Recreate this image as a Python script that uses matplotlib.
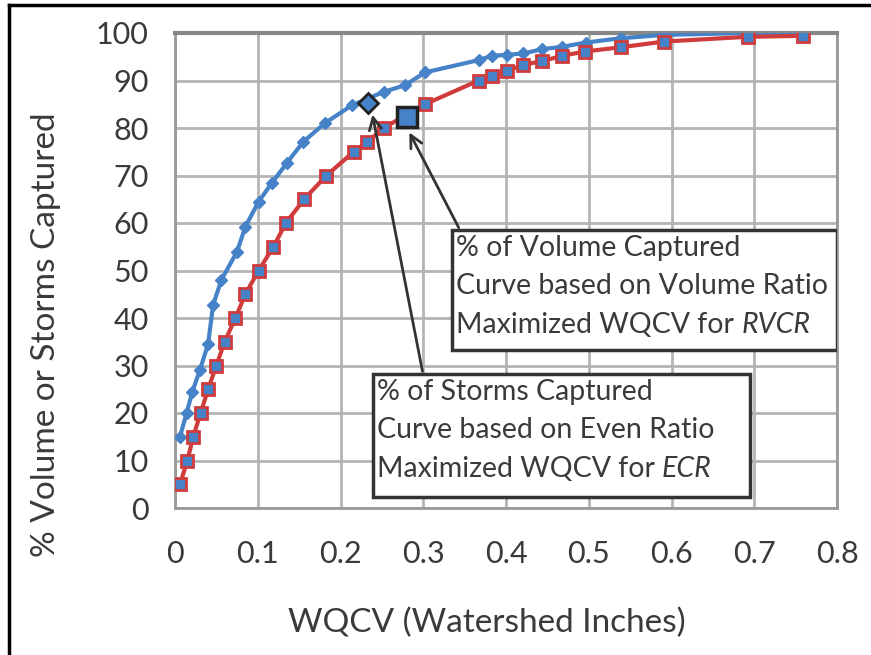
import matplotlib
matplotlib.use("Agg")
import matplotlib.pyplot as plt
from matplotlib.patches import Rectangle
from matplotlib.lines import Line2D

plt.rcParams['font.family'] = ['Lato', 'DejaVu Sans']

# % of Volume Captured (blue, diamonds)
vol_x = [0.006, 0.014, 0.021, 0.030, 0.040, 0.046, 0.056, 0.075, 0.085, 0.101,
         0.117, 0.135, 0.155, 0.181, 0.214, 0.252, 0.278, 0.302, 0.367, 0.383,
         0.401, 0.421, 0.444, 0.468, 0.497, 0.539, 0.591, 0.692, 0.759]
vol_y = [15, 20, 24.5, 29, 34.5, 42.7, 48, 54, 59.2, 64.5,
         68.4, 72.6, 77.1, 81, 84.8, 87.6, 89, 91.7, 94.3, 95.2,
         95.4, 95.7, 96.6, 97.1, 98, 98.9, 99.6, 100, 99.9]

# % of Storms Captured (red, squares)
storm_x = [0.006, 0.015, 0.022, 0.031, 0.040, 0.050, 0.060, 0.073, 0.085, 0.101,
           0.119, 0.134, 0.156, 0.183, 0.216, 0.232, 0.252, 0.302, 0.367, 0.383,
           0.401, 0.421, 0.444, 0.468, 0.495, 0.539, 0.591, 0.692, 0.759]
storm_y = [5, 10, 15, 20, 25, 30, 35, 40, 45, 50,
           55, 60, 65, 70, 75, 77, 80, 85, 90, 91,
           92, 93.3, 94.1, 95.2, 96.1, 97, 98.2, 99.2, 99.4]

# Maximized WQCV points
ecr_pt = (0.2335, 85.3)
rvcr_pt = (0.280, 82.4)

x_ticks = [0, 0.1, 0.2, 0.3, 0.4, 0.5, 0.6, 0.7, 0.8]
x_tick_labels = ['0', '0.1', '0.2', '0.3', '0.4', '0.5', '0.6', '0.7', '0.8']
y_ticks = [0, 10, 20, 30, 40, 50, 60, 70, 80, 90, 100]

box1_lines = ["% of Volume Captured", "Curve based on Volume Ratio", "Maximized WQCV for "]
box1_italic = "RVCR"
box2_lines = ["% of Storms Captured", "Curve based on Even Ratio", "Maximized WQCV for "]
box2_italic = "ECR"

BLUE = '#4682c8'
RED = '#d03c3c'
TEXT = '#3a3a3a'
GRID = '#b4b4b4'

fig = plt.figure(figsize=(8.71, 6.55), dpi=100)
ax = fig.add_axes([175/871, 1-508/655, (837-175)/871, (508-33)/655])

ax.set_xlim(0, 0.8)
ax.set_ylim(0, 100)
ax.set_xticks(x_ticks)
ax.set_xticklabels(x_tick_labels)
ax.set_yticks(y_ticks)
ax.grid(True, color=GRID, linewidth=2)
ax.set_axisbelow(True)
for s in ax.spines.values():
    s.set_color('#999999')
    s.set_linewidth(2)
ax.spines['top'].set_color('#888888')
ax.spines['top'].set_linewidth(3)
ax.tick_params(length=0, labelsize=22, labelcolor=TEXT)
ax.tick_params(axis='y', pad=19)
ax.tick_params(axis='x', pad=23)

ax.plot(vol_x, vol_y, color=BLUE, linewidth=3, marker='D', markersize=6,
        markerfacecolor=BLUE, markeredgecolor=BLUE, zorder=3)
ax.plot(storm_x, storm_y, color=RED, linewidth=3, marker='s', markersize=9,
        markerfacecolor=BLUE, markeredgecolor=RED, markeredgewidth=2, zorder=3)

ax.plot([ecr_pt[0]], [ecr_pt[1]], marker='D', markersize=10, markerfacecolor=BLUE,
        markeredgecolor='#222222', markeredgewidth=2, zorder=5, linestyle='none')
ax.plot([rvcr_pt[0]], [rvcr_pt[1]], marker='s', markersize=15, markerfacecolor=BLUE,
        markeredgecolor='#222222', markeredgewidth=2.5, zorder=5, linestyle='none')

ax.set_xlabel('WQCV (Watershed Inches)', fontsize=24, color=TEXT)
ax.xaxis.label.set_va('center')
ax.xaxis.set_label_coords((486.5-175)/662, (508-623)/475)
ax.set_ylabel('% Volume or Storms Captured', fontsize=24, color=TEXT)
ax.yaxis.label.set_va('center')
ax.yaxis.set_label_coords((46-175)/662, (508-335)/475)

# arrows
arrow_kw = dict(arrowstyle='->', color='#333333', lw=2, mutation_scale=22)
ax.annotate('', xy=(0.2816, 79.6), xytext=(0.3444, 58.5),
            arrowprops=arrow_kw, zorder=6)
ax.annotate('', xy=(0.238, 83.4), xytext=(0.2997, 28.2),
            arrowprops=arrow_kw, zorder=6)

def draw_box(x0, y0, x1, y1, lines, italic):
    ax.add_patch(Rectangle((x0, y0), x1 - x0, y1 - y0, facecolor='white',
                           edgecolor='#333333', linewidth=2.5, zorder=7))
    tx = x0 + 0.005
    ty = y1 - 1.0
    t = None
    for i, ln in enumerate(lines):
        t = ax.text(tx, ty - i * 8.1, ln, fontsize=20.5, color=TEXT, va='top',
                    ha='left', zorder=8)
    ax.annotate(italic, xy=(1, 0), xycoords=t, va='bottom', ha='left',
                fontsize=20.5, color=TEXT, style='italic', zorder=8)

draw_box(0.3347, 33.3, 0.8, 58.5, box1_lines, box1_italic)
draw_box(0.239, 2.3, 0.695, 28.2, box2_lines, box2_italic)

# figure frame
fig.add_artist(Line2D([9/871, 9/871], [0, 1-5/655], color='black', lw=2.5,
                      transform=fig.transFigure))
fig.add_artist(Line2D([9/871, 1.0], [1-5/655, 1-5/655], color='black', lw=2.5,
                      transform=fig.transFigure))

fig.savefig('out.png', dpi=100)
